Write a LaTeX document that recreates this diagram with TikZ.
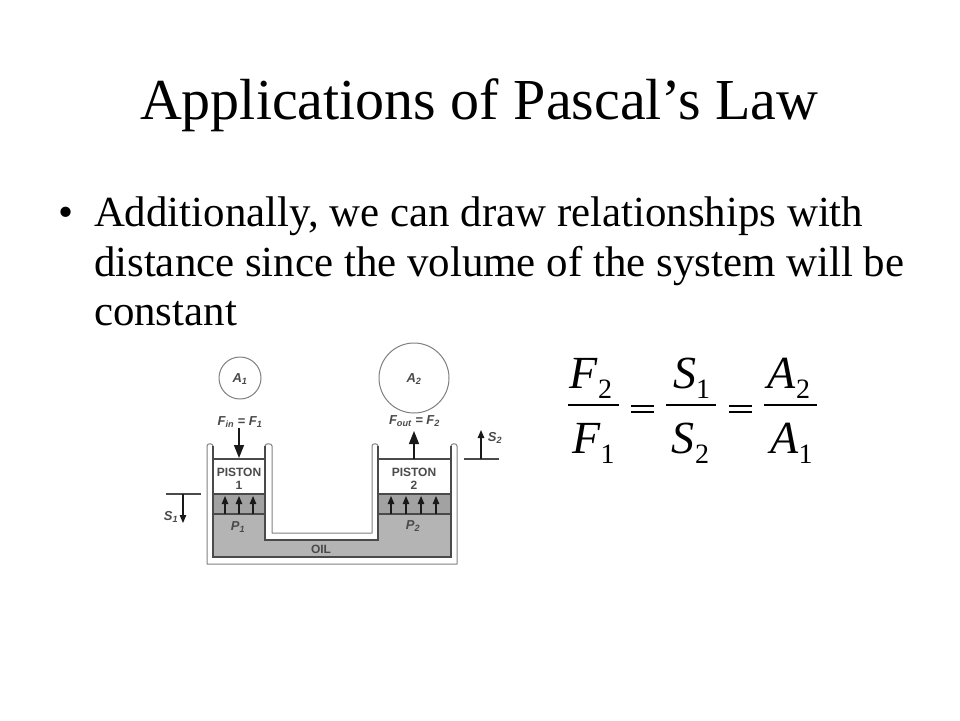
\documentclass[tikz,border=0pt]{standalone}
\usepackage{fontspec}
\setmainfont{Liberation Serif}
\setsansfont{Liberation Sans}
\usetikzlibrary{arrows.meta}
\definecolor{oilgray}{HTML}{B4B4B4}
\definecolor{bandgray}{HTML}{A2A2A2}
\definecolor{inkgray}{HTML}{4A4A4A}
\definecolor{wallgray}{HTML}{808080}
\tikzset{
  txt/.style={inner sep=0pt,outer sep=0pt,anchor=base west,text=black},
  titletxt/.style={txt,font=\fontsize{58}{58}\selectfont},
  bodytxt/.style={txt,font=\fontsize{42.9}{43}\selectfont},
  eqvar/.style={txt,font=\fontsize{46}{46}\selectfont\itshape},
  eqsub/.style={txt,font=\fontsize{28}{28}\selectfont},
  bar/.style={line width=2pt,black},
  wall/.style={draw=wallgray,line width=1pt,line join=round},
  thinl/.style={draw=inkgray,line width=1.1pt},
  lab/.style={inner sep=0pt,outer sep=0pt,text=inkgray,font=\sffamily\bfseries\fontsize{12}{13}\selectfont,align=center},
  labit/.style={lab,font=\sffamily\bfseries\itshape\fontsize{13}{14}\selectfont},
  areacircle/.style={circle,draw=wallgray,line width=1pt,fill=white,inner sep=0pt},
  bigarrow/.style={draw=black!90,line width=1.4pt,-{Triangle[length=13pt,width=10pt]}},
  smallarrow/.style={draw=black!90,line width=1.2pt,-{Triangle[length=8pt,width=6.5pt]}}
}
\begin{document}
\begin{tikzpicture}[x=1pt,y=-1pt]
\useasboundingbox (0,0) rectangle (960,720);
\fill[white] (0,0) rectangle (960,720);
% Title and body
\node[titletxt] (title) at (140,119) {Applications of Pascal’s Law};
\node[bodytxt] (bullet) at (58,226) {•};
\node[bodytxt] (l1) at (94,226) {Additionally, we can draw relationships with};
\node[bodytxt] (l2) at (94,276) {distance since the volume of the system will be};
\node[bodytxt] (l3) at (94,325) {constant};
% Oil
\fill[oilgray] (213,514) -- (265,514) -- (265,540) -- (378,540) -- (378,514) -- (451,514) -- (451,557) -- (213,557) -- cycle;
\fill[bandgray] (213,494) rectangle (265,514);
\fill[bandgray] (378,494) rectangle (451,514);
% Vessel outer and inner walls with rounded tops
\draw[wall] (207,446) .. controls (207,443) and (213,443) .. (213,446);
\draw[wall] (265,446) .. controls (265,443) and (272,443) .. (272,446) -- (272,533) -- (372,533) -- (372,446)
  .. controls (372,443) and (378,443) .. (378,446);
\draw[wall] (451,446) .. controls (451,443) and (457,443) .. (457,446) -- (457,564) -- (207,564) -- (207,446);
\draw[thinl] (213,446) -- (213,557) -- (451,557) -- (451,446);
\draw[thinl] (265,446) -- (265,540) -- (378,540) -- (378,446);
% Pistons
\draw[thinl] (213,459) -- (265,459);
\draw[thinl] (378,459) -- (451,459);
\draw[thinl,line width=1.3pt] (213,494) -- (265,494);
\draw[thinl,line width=1.3pt] (213,514) -- (265,514);
\draw[thinl,line width=1.3pt] (378,494) -- (451,494);
\draw[thinl,line width=1.3pt] (378,514) -- (451,514);
\node[lab] (p1) at (239,479) {PISTON\\1};
\node[lab] (p2) at (414,479) {PISTON\\2};
% Pressure arrows
\foreach \x/\n in {225/a,239/b,253/c,391/d,406/e,421/f,436/g}{
  \coordinate (pb\n) at (\x,514);
  \coordinate (pt\n) at (\x,496);
  \draw[smallarrow] (pb\n) -- (pt\n);
}
\node[labit] (P1) at (238,527) {P\textsubscript{1}};
\node[labit] (P2) at (413,526) {P\textsubscript{2}};
\node[lab] (oil) at (321,549) {OIL};
% Area circles
\node[areacircle,minimum size=42pt] (c1) at (240,378) {};
\node[labit] (c1t) at (240,379) {A\textsubscript{1}};
\node[areacircle,minimum size=70pt] (c2) at (414,378) {};
\node[labit] (c2t) at (414,379) {A\textsubscript{2}};
% Force labels and arrows
\node[labit] (fin) at (240,422) {F\textsubscript{in} = F\textsubscript{1}};
\node[labit] (fout) at (414.5,421) {F\textsubscript{out} = F\textsubscript{2}};
\coordinate (fa) at (239,428);
\coordinate (fb) at (239,458);
\draw[bigarrow] (fa) -- (fb);
\coordinate (ga) at (414,459);
\coordinate (gb) at (414,431);
\draw[bigarrow] (ga) -- (gb);
% Displacements
\coordinate (s1l) at (166,494);
\coordinate (s1r) at (201,494);
\coordinate (s1m) at (183,494);
\coordinate (s1e) at (183,523);
\draw[thinl] (s1l) -- (s1r);
\draw[smallarrow] (s1m) -- (s1e);
\node[labit] (s1) at (171,517) {S\textsubscript{1}};
\coordinate (s2l) at (464,459);
\coordinate (s2r) at (499,459);
\coordinate (s2m) at (481,459);
\coordinate (s2e) at (481,430);
\draw[thinl] (s2l) -- (s2r);
\draw[smallarrow] (s2m) -- (s2e);
\node[labit] (s2) at (495,438) {S\textsubscript{2}};
% Equation
\node[eqvar] (F2) at (569,388) {F};
\node[eqsub] (F2s) at (598,398) {2};
\node[eqvar] (F1) at (572,453) {F};
\node[eqsub] (F1s) at (600.5,463) {1};
\node[eqvar] (S1) at (673,388) {S};
\node[eqsub] (S1s) at (696,398) {1};
\node[eqvar] (S2) at (671,453) {S};
\node[eqsub] (S2s) at (695,463) {2};
\node[eqvar] (A2) at (767,388) {A};
\node[eqsub] (A2s) at (796,398) {2};
\node[eqvar] (A1) at (770,453) {A};
\node[eqsub] (A1s) at (798.5,463) {1};
\coordinate (b1l) at (568,405); \coordinate (b1r) at (619,405);
\coordinate (b2l) at (666,405); \coordinate (b2r) at (716,405);
\coordinate (b3l) at (764,405); \coordinate (b3r) at (817,405);
\draw[bar] (b1l) -- (b1r);
\draw[bar] (b2l) -- (b2r);
\draw[bar] (b3l) -- (b3r);
\coordinate (e1a) at (631,406); \coordinate (e1b) at (654,406);
\coordinate (e1c) at (631,412); \coordinate (e1d) at (654,412);
\draw[bar] (e1a) -- (e1b); \draw[bar] (e1c) -- (e1d);
\coordinate (e2a) at (729,406); \coordinate (e2b) at (752,406);
\coordinate (e2c) at (729,412); \coordinate (e2d) at (752,412);
\draw[bar] (e2a) -- (e2b); \draw[bar] (e2c) -- (e2d);
\end{tikzpicture}
\end{document}
